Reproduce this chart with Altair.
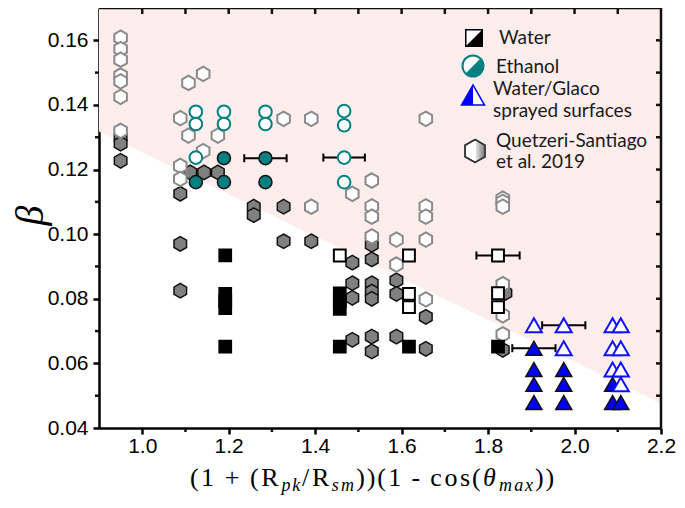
import altair as alt
import pandas as pd

# ---------------- data ----------------
qs_filled_x = [0.95, 0.95, 0.95, 1.088, 1.088, 1.088, 1.111, 1.143, 1.175, 1.258, 1.258,
               1.327, 1.327, 1.391, 1.531, 1.486, 1.531, 1.486, 1.486, 1.531, 1.531, 1.531,
               1.588, 1.588, 1.656, 1.486, 1.531, 1.531, 1.588, 1.656, 1.840, 1.834]
qs_filled_y = [0.1300, 0.1280, 0.1227, 0.1125, 0.0970, 0.0825, 0.1191, 0.1191, 0.1191, 0.1085, 0.1059,
               0.1085, 0.0978, 0.0978, 0.0967, 0.0912, 0.0922, 0.0848, 0.0803, 0.0848, 0.0822, 0.0800,
               0.0857, 0.0815, 0.0744, 0.0673, 0.0683, 0.0637, 0.0683, 0.0645, 0.0818, 0.0642]

qs_open_x = [0.95, 0.95, 0.95, 0.95, 0.95, 0.95, 0.95,
             1.141, 1.107, 1.088, 1.107, 1.141, 1.088, 1.088, 1.175, 1.327, 1.391, 1.656,
             1.486, 1.531, 1.391, 1.531, 1.531, 1.656, 1.656, 1.531, 1.588, 1.656, 1.588, 1.656,
             1.834, 1.834, 1.834, 1.834, 1.834, 1.834]
qs_open_y = [0.1608, 0.1573, 0.1540, 0.1491, 0.1473, 0.1425, 0.1320,
             0.1496, 0.1468, 0.1359, 0.1305, 0.1257, 0.1211, 0.1171, 0.1305, 0.1357, 0.1357, 0.1357,
             0.1125, 0.1166, 0.1085, 0.1086, 0.1054, 0.1086, 0.1054, 0.0993, 0.0983, 0.0983, 0.0906, 0.0798,
             0.1110, 0.1100, 0.1085, 0.0845, 0.0749, 0.0690]

water_filled_x = [1.192, 1.192, 1.192, 1.192, 1.192, 1.457, 1.457, 1.457, 1.457, 1.617, 1.823]
water_filled_y = [0.0934, 0.0815, 0.0793, 0.0771, 0.0652, 0.0817, 0.0793, 0.0769, 0.0652, 0.0652, 0.0652]
water_open_x = [1.457, 1.617, 1.617, 1.617, 1.823, 1.823, 1.823]
water_open_y = [0.0934, 0.0934, 0.0815, 0.0774, 0.0934, 0.0817, 0.0774]

eth_filled_x = [1.124, 1.189, 1.189, 1.285, 1.285]
eth_filled_y = [0.1161, 0.1235, 0.1161, 0.1235, 0.1161]
eth_open_x = [1.124, 1.124, 1.124, 1.189, 1.189, 1.285, 1.285, 1.467, 1.467, 1.467, 1.467]
eth_open_y = [0.1379, 0.1341, 0.1237, 0.1379, 0.1341, 0.1379, 0.1341, 0.1381, 0.1337, 0.1237, 0.1161]

glaco_filled_x = [1.906, 1.906, 1.906, 1.906, 1.975, 1.975, 1.975, 2.088, 2.088, 2.107]
glaco_filled_y = [0.0647, 0.0581, 0.0535, 0.0479, 0.0581, 0.0535, 0.0479, 0.0535, 0.0479, 0.0479]
glaco_open_x = [1.906, 1.975, 1.975, 2.088, 2.107, 2.088, 2.107, 2.088, 2.107, 2.107]
glaco_open_y = [0.0718, 0.0718, 0.0647, 0.0718, 0.0718, 0.0647, 0.0647, 0.0581, 0.0581, 0.0535]

err_x = [1.285, 1.467, 1.823, 1.906, 1.975]
err_y = [0.1235, 0.1237, 0.0934, 0.0647, 0.0718]
err_dx = [0.049, 0.048, 0.050, 0.050, 0.050]

boundary_x = [0.9, 2.2]
boundary_y = [0.1318, 0.0475]

x_major = [1.0, 1.2, 1.4, 1.6, 1.8, 2.0, 2.2]
x_minor = [1.1, 1.3, 1.5, 1.7, 1.9, 2.1]
x_top = [1.0, 1.1, 1.2, 1.3, 1.4, 1.5, 1.6, 1.7, 1.8, 1.9, 2.0, 2.1]
y_major = [0.04, 0.06, 0.08, 0.10, 0.12, 0.14, 0.16]
y_minor = [0.05, 0.07, 0.09, 0.11, 0.13, 0.15]
y_right = [0.05, 0.06, 0.07, 0.08, 0.09, 0.10, 0.11, 0.12, 0.13, 0.14, 0.15, 0.16]

X_DOMAIN = [0.9, 2.2]
Y_DOMAIN = [0.04, 0.17]

# x-axis title pieces: (text, italic, subscript)
title_parts = [("(", 0, 0), ("1", 0, 0), (" ", 0, 0), ("+", 0, 0), (" ", 0, 0), ("(", 0, 0), ("R", 0, 0),
               ("p", 1, 1), ("k", 1, 1), ("/", 0, 0), ("R", 0, 0), ("s", 1, 1), ("m", 1, 1),
               (")", 0, 0), (")", 0, 0), ("(", 0, 0), ("1", 0, 0), (" ", 0, 0), ("-", 0, 0), (" ", 0, 0),
               ("c", 0, 0), ("o", 0, 0), ("s", 0, 0), ("(", 0, 0), ("θ", 1, 0),
               ("m", 1, 1), ("a", 1, 1), ("x", 1, 1), (")", 0, 0), (")", 0, 0)]

W, H = 562, 420
PX_X = (X_DOMAIN[1] - X_DOMAIN[0]) / W   # data units per pixel
PX_Y = (Y_DOMAIN[1] - Y_DOMAIN[0]) / H
LINE = "#111111"
LW = 2.5

# ---------------- encodings ----------------
x_axis = alt.Axis(values=x_major, format=".1f", title=None,
                  labelFont="Liberation Sans", labelFontSize=21, labelColor="black",
                  labelPadding=1, labelFlush=False, tickSize=6, tickWidth=2.5, tickColor="black",
                  domainColor="black", domainWidth=2.5, grid=False)
y_axis = alt.Axis(values=y_major, format=".2f", title="β",
                  labelFont="Liberation Sans", labelFontSize=21, labelColor="black",
                  labelPadding=5, tickSize=6, tickWidth=2.5, tickColor="black",
                  domainColor="black", domainWidth=2.5, grid=False,
                  titleFont="Liberation Serif", titleFontStyle="italic", titleFontSize=40,
                  titleFontWeight="normal", titleColor="black", titleAngle=270,
                  titleX=-69, titleY=207, titleAlign="center", titleBaseline="middle")

xs = alt.Scale(domain=X_DOMAIN, nice=False, zero=False)
ys = alt.Scale(domain=Y_DOMAIN, nice=False, zero=False)


def X(f="x"):
    return alt.X(f"{f}:Q", scale=xs, axis=x_axis)


def Y(f="y"):
    return alt.Y(f"{f}:Q", scale=ys, axis=y_axis)


HEX = "M0,-1L0.866,-0.5L0.866,0.5L0,1L-0.866,0.5L-0.866,-0.5Z"
HEX_RIGHT = "M0,-1L0.866,-0.5L0.866,0.5L0,1Z"
CAP = "M0,-1L0,1"

one = pd.DataFrame({"a": [0]})

# ---------------- layers ----------------
bg = alt.Chart(pd.DataFrame({"x": boundary_x, "y": boundary_y, "y2": [Y_DOMAIN[1]] * 2})).mark_area(
    color="#fdeded", opacity=1).encode(x=X(), y=Y(), y2="y2:Q")

# frame (top and right)
frame_top = alt.Chart(pd.DataFrame({"alo": [X_DOMAIN[0]], "ahi": [X_DOMAIN[1]], "ay": [Y_DOMAIN[1]]})).mark_rule(
    color=LINE, strokeWidth=LW).encode(x=X("alo"), x2="ahi:Q", y=Y("ay"))
frame_right = alt.Chart(pd.DataFrame({"bx": [X_DOMAIN[1]], "by": [Y_DOMAIN[0]], "by2": [Y_DOMAIN[1]]})).mark_rule(
    color=LINE, strokeWidth=LW).encode(x=X("bx"), y=Y("by"), y2="by2:Q")
# left minor ticks (outward)
tick_left = alt.Chart(pd.DataFrame({"clo": [X_DOMAIN[0] - 4 * PX_X] * len(y_minor),
                                    "chi": [X_DOMAIN[0]] * len(y_minor),
                                    "cy": y_minor})).mark_rule(color=LINE, strokeWidth=LW).encode(
    x=X("clo"), x2="chi:Q", y=Y("cy"))
# right ticks (inward)
tick_right = alt.Chart(pd.DataFrame({"rlo": [X_DOMAIN[1] - 5 * PX_X] * len(y_right),
                                     "rhi": [X_DOMAIN[1]] * len(y_right),
                                     "ry": y_right})).mark_rule(color=LINE, strokeWidth=LW).encode(
    x=X("rlo"), x2="rhi:Q", y=Y("ry"))
# top ticks (inward)
tick_top = alt.Chart(pd.DataFrame({"dx": x_top, "dy": [Y_DOMAIN[1]] * len(x_top),
                                   "dy2": [Y_DOMAIN[1] - 6 * PX_Y] * len(x_top)})).mark_rule(
    color=LINE, strokeWidth=LW).encode(x=X("dx"), y=Y("dy"), y2="dy2:Q")
# bottom minor ticks (outward)
tick_bottom = alt.Chart(pd.DataFrame({"fx": x_minor})).mark_rule(color=LINE, strokeWidth=LW).encode(
    x=X("fx"), y=alt.value(H), y2=alt.value(H + 4))

err_df = pd.DataFrame({"x": err_x, "y": err_y, "dx": err_dx})
err_df["lo"] = err_df["x"] - err_df["dx"]
err_df["hi"] = err_df["x"] + err_df["dx"]
err_lines = alt.Chart(err_df).mark_rule(color="black", strokeWidth=2).encode(
    x=X("lo"), x2="hi:Q", y=Y())
cap_lo = alt.Chart(err_df).mark_point(shape=CAP, size=64, filled=False, stroke="black",
                                      strokeWidth=2, opacity=1).encode(x=X("lo"), y=Y())
cap_hi = alt.Chart(err_df).mark_point(shape=CAP, size=64, filled=False, stroke="black",
                                      strokeWidth=2, opacity=1).encode(x=X("hi"), y=Y())


def pts(xv, yv, shape, size, fill, stroke, sw):
    return alt.Chart(pd.DataFrame({"x": xv, "y": yv})).mark_point(
        shape=shape, size=size, filled=True, fill=fill, stroke=stroke, strokeWidth=sw,
        opacity=1, fillOpacity=1, strokeOpacity=1).encode(x=X(), y=Y())


qs_f = pts(qs_filled_x, qs_filled_y, HEX, 210, "#808080", "#111111", 1.5)
qs_o = pts(qs_open_x, qs_open_y, HEX, 210, "white", "#8a8a8a", 2)
wa_f = pts(water_filled_x, water_filled_y, "square", 150, "black", "black", 1.5)
wa_o = pts(water_open_x, water_open_y, "square", 140, "white", "black", 2)
et_f = pts(eth_filled_x, eth_filled_y, "circle", 170, "#008080", "#111111", 1.5)
et_o = pts(eth_open_x, eth_open_y, "circle", 160, "white", "#008080", 2)
gl_f = pts(glaco_filled_x, glaco_filled_y, "triangle-up", 256, "#0000ff", "#111111", 1.5)
gl_o = pts(glaco_open_x, glaco_open_y, "triangle-up", 256, "white", "#1010ff", 2)

# ---------------- legend ----------------


def sym(x, y, shape, size, fill, stroke, sw):
    return alt.Chart(one).mark_point(shape=shape, size=size, filled=True, fill=fill, stroke=stroke,
                                     strokeWidth=sw, opacity=1, fillOpacity=1).encode(
        x=alt.value(x), y=alt.value(y))


def txt(x, y, s):
    return alt.Chart(one).mark_text(align="left", baseline="middle", font="Lato", fontSize=19,
                                    color="#1a1a1a", text=s).encode(x=alt.value(x), y=alt.value(y))


hex_grad = alt.Gradient(gradient="linear", x1=0, y1=0, x2=1, y2=0,
                        stops=[alt.GradientStop(color="#e6e6e6", offset=0),
                               alt.GradientStop(color="#6e6e6e", offset=1)])

legend = [
    sym(375, 30, "square", 272, "white", "black", 1.5),
    sym(375, 30, "M1,-1L1,1L-1,1Z", 272, "black", "black", 0),
    txt(400, 30, "Water"),
    sym(374, 58, "circle", 441, "white", "#008080", 2),
    sym(374, 58, "M0.707,-0.707A1,1,0,0,1,-0.707,0.707Z", 441, "#008080", "#008080", 0),
    txt(397, 59, "Ethanol"),
    sym(374, 87, "M0,-0.87L1,0.87L-1,0.87Z", 529, "white", "#0000ff", 1.5),
    sym(374, 87, "M0,-0.87L0,0.87L-1,0.87Z", 529, "#0000ff", "#0000ff", 0),
    txt(394, 81, "Water/Glaco"),
    txt(394, 103, "sprayed surfaces"),
    sym(376, 143, HEX, 529, "white", "#333333", 1.5),
    alt.Chart(one).mark_point(shape=HEX_RIGHT, size=529, filled=True, fill=hex_grad, strokeWidth=0,
                              opacity=1).encode(x=alt.value(376.8), y=alt.value(143)),
    sym(376, 143, HEX, 529, "transparent", "#333333", 1.5),
    txt(397, 133, "Quetzeri-Santiago"),
    txt(397, 154, "et al. 2019"),
]

# ---------------- x-axis title composed of characters ----------------
ADV = {"(": .333, ")": .333, "1": .5, " ": .25, "+": .564, "R": .667, "/": .278, "-": .333,
       "c": .444, "o": .5, "s": .389, "p": .5, "k": .444, "m": .722, "a": .5, "x": .444, "θ": .5}
F, FS = 26, 18
TARGET_W = 366
CENTER_X = 273
BASE_Y = 478
nat = sum(ADV[c] * (FS if sub else F) for c, it, sub in title_parts)
spread = TARGET_W / nat
title_layers = []
cum = 0.0
for c, it, sub in title_parts:
    size = FS if sub else F
    adv = ADV[c] * size
    if c != " ":
        cx = CENTER_X - TARGET_W / 2 + cum * spread + adv * (spread - 1) / 2
        title_layers.append(
            alt.Chart(one).mark_text(align="left", baseline="alphabetic", font="Liberation Serif",
                                     fontSize=size, fontStyle="italic" if it else "normal",
                                     color="black", text=c).encode(
                x=alt.value(round(cx, 1)), y=alt.value(BASE_Y + (5 if sub else 0))))
    cum += adv

chart = alt.layer(
    bg,
    err_lines, cap_lo, cap_hi,
    qs_f, qs_o, wa_f, wa_o, et_f, et_o, gl_f, gl_o,
    *legend, *title_layers,
    frame_top, frame_right, tick_left, tick_right, tick_top, tick_bottom
).properties(
    width=W, height=H,
    autosize=alt.AutoSizeParams(type="none"),
    padding={"left": 91, "top": 0, "right": 16, "bottom": 72},
)

chart.save("out.html", embed_options={"renderer": "svg", "actions": False})
